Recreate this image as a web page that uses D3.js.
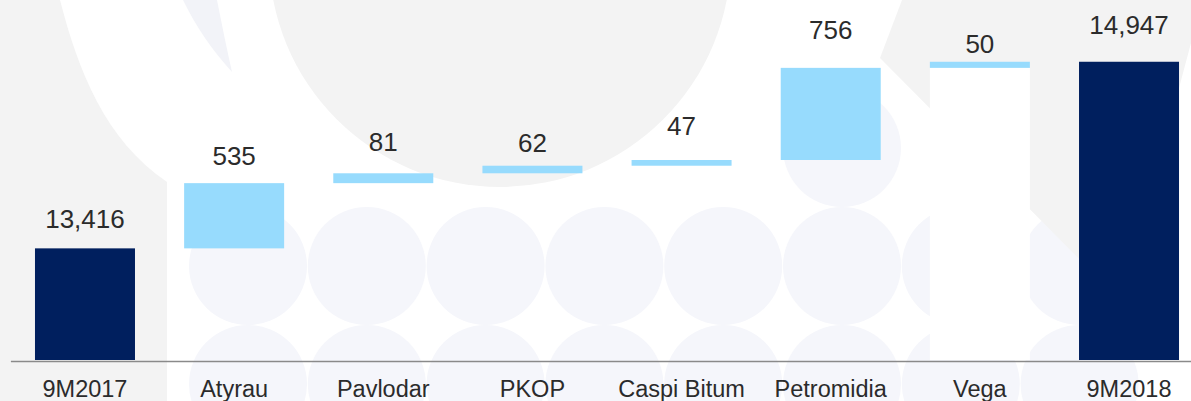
<!DOCTYPE html>
<html>
<head>
<meta charset="utf-8">
<script src="https://cdn.jsdelivr.net/npm/d3@7"></script>
<style>
  html, body { margin: 0; padding: 0; background: #ffffff; }
  #wrapper { width: 1191px; height: 401px; overflow: hidden; }
  text { font-family: "Liberation Sans", Arial, sans-serif; }
</style>
</head>
<body>
<div id="wrapper"></div>
<script>
// waterfall data
const categories = ["9M2017", "Atyrau", "Pavlodar", "PKOP", "Caspi Bitum", "Petromidia", "Vega", "9M2018"];
const values = [13416, 535, 81, 62, 47, 756, 50, 14947];
const isTotal = [true, false, false, false, false, false, false, true];

// gap (px) between bar top and value label baseline, as placed in the original slide
const labelGap = [20, 18, 22, 14, 25, 29, 9, 28];

function drawWaterfall() {
  const dimensions = {
    width: 1191,
    height: 401,
    baseline: 360,
  }

  const svg = d3.select("#wrapper")
    .append("svg")
      .attr("width", dimensions.width)
      .attr("height", dimensions.height)

  // faint watermark in the background
  const bg = svg.append("g")

  const circleCols = d3.range(8).map(i => 248 + i * 118.8)
  const circleSpots = []
  circleCols.forEach((cx, i) => {
    circleSpots.push([cx, 266], [cx, 384])
    if (i === 5) circleSpots.push([cx, 148])
  })
  bg.selectAll("circle.dot")
    .data(circleSpots)
    .join("circle")
      .attr("class", "dot")
      .attr("cx", d => d[0])
      .attr("cy", d => d[1])
      .attr("r", 59)
      .attr("fill", "#f5f6fb")

  bg.append("path")
    .attr("d", "M0,0 L60,0 C78,70 105,140 167,182 L167,401 L0,401 Z")
    .attr("fill", "#f3f3f3")

  bg.append("path")
    .attr("d", "M183,0 L217,0 C222,25 227,50 232,72 C212,50 195,25 183,0 Z")
    .attr("fill", "#f2f3f8")

  bg.append("circle")
    .attr("cx", 500)
    .attr("cy", -44)
    .attr("r", 231)
    .attr("fill", "#f3f3f3")

  bg.append("path")
    .attr("d", "M902,0 L880,58 L1110,290 L1179,88 L1191,43 L1191,0 Z")
    .attr("fill", "#f3f3f3")

  // running totals
  let running = 0
  const steps = categories.map((cat, i) => {
    let start, end
    if (isTotal[i]) {
      start = null
      end = values[i]
      running = values[i]
    } else {
      start = running
      end = running + values[i]
      running = end
    }
    return { cat, value: values[i], start, end, total: isTotal[i], gap: labelGap[i] }
  })

  const xScale = d3.scaleBand()
    .domain(categories)
    .range([10.4, 1203.6])
    .paddingInner(0.3295)
    .paddingOuter(0.1648)

  const yScale = d3.scaleLinear()
    .domain([12500, 15000])
    .range([dimensions.baseline, 55.3])

  const bars = svg.append("g")

  // white filler under the Vega step
  bars.selectAll("rect.base")
    .data(steps.filter(d => d.cat === "Vega"))
    .join("rect")
      .attr("class", "base")
      .attr("x", d => xScale(d.cat))
      .attr("width", xScale.bandwidth())
      .attr("y", d => yScale(d.start))
      .attr("height", d => dimensions.baseline - yScale(d.start))
      .attr("fill", "#ffffff")

  bars.selectAll("rect.bar")
    .data(steps)
    .join("rect")
      .attr("class", "bar")
      .attr("x", d => xScale(d.cat))
      .attr("width", xScale.bandwidth())
      .attr("y", d => yScale(d.end))
      .attr("height", d => d.total
        ? dimensions.baseline - yScale(d.end)
        : yScale(d.start) - yScale(d.end))
      .attr("fill", d => d.total ? "#001f5e" : "#97dbfd")

  const fmt = d3.format(",")
  svg.append("g").selectAll("text")
    .data(steps)
    .join("text")
      .attr("x", d => xScale(d.cat) + xScale.bandwidth() / 2)
      .attr("y", d => yScale(d.end) - d.gap)
      .attr("text-anchor", "middle")
      .attr("fill", "#2b2b2b")
      .style("font-size", "26px")
      .text(d => fmt(d.value))

  const xAxisGenerator = d3.axisBottom()
    .scale(xScale)
    .tickSize(0)
    .tickSizeOuter(0)

  const xAxis = svg.append("g")
    .call(xAxisGenerator)
      .attr("transform", `translate(0, ${dimensions.baseline + 1})`)

  xAxis.select(".domain")
    .attr("stroke", "#8a8a8a")
    .attr("stroke-width", 1.6)

  xAxis.selectAll(".tick text")
    .attr("y", 36)
    .attr("dy", null)
    .attr("fill", "#2b2b2b")
    .style("font-size", "23.5px")
    .style("font-family", "'Liberation Sans', Arial, sans-serif")
}

drawWaterfall();
</script>
</body>
</html>
